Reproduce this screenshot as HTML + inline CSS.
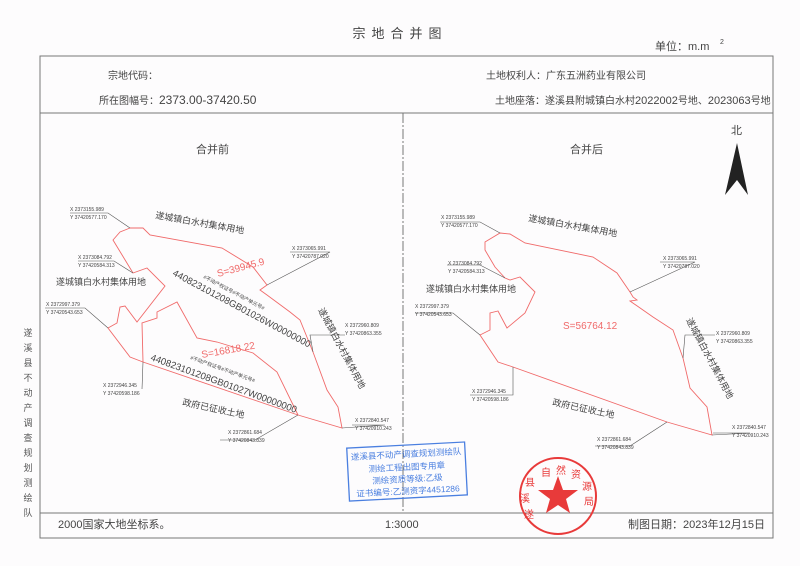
<!DOCTYPE html>
<html><head><meta charset="utf-8"><style>
html,body{margin:0;padding:0;background:#fdfcfd;}
svg{display:block;font-family:"Liberation Sans","Noto Sans CJK SC",sans-serif;}
</style></head><body>
<svg width="800" height="566" viewBox="0 0 800 566" xmlns="http://www.w3.org/2000/svg">
<rect width="800" height="566" fill="#fdfcfd"/>
<text x="400" y="38" font-size="13" text-anchor="middle" fill="#444" letter-spacing="6">宗地合并图</text>
<text x="655" y="50" font-size="11" fill="#444">单位：m.m</text>
<text x="720" y="44" font-size="7" fill="#444">2</text>
<g fill="none" stroke="#777" stroke-width="1">
<rect x="40" y="56" width="733" height="482"/>
<line x1="40" y1="113" x2="773" y2="113"/>
<line x1="40" y1="513" x2="773" y2="513"/>
<line x1="403" y1="113" x2="403" y2="513" stroke-dasharray="10,2,2,2"/>
</g>
<g font-size="10" fill="#444">
<text x="108" y="79">宗地代码：</text>
<text x="99" y="104">所在图幅号：<tspan font-size="12">2373.00-37420.50</tspan></text>
<text x="486" y="79">土地权利人：广东五洲药业有限公司</text>
<text x="495" y="104">土地座落：遂溪县附城镇白水村<tspan font-size="11">2022002</tspan>号地、<tspan font-size="11">2023063</tspan>号地</text>
<text x="196" y="153" font-size="11">合并前</text>
<text x="570" y="153" font-size="11">合并后</text>
<text x="731" y="134" font-size="11">北</text>
<text x="58" y="528" font-size="11">2000国家大地坐标系。</text>
<text x="385" y="528" font-size="11">1:3000</text>
<text x="628" y="528" font-size="11">制图日期：2023年12月15日</text>
</g>
<polygon points="737,143 748,195 737,180 725,195" fill="#222"/>
<g font-size="9" fill="#555" text-anchor="middle">
<text x="28" y="336">遂</text><text x="28" y="351">溪</text><text x="28" y="366">县</text><text x="28" y="381">不</text><text x="28" y="396">动</text><text x="28" y="411">产</text><text x="28" y="426">调</text><text x="28" y="441">查</text><text x="28" y="456">规</text><text x="28" y="471">划</text><text x="28" y="486">测</text><text x="28" y="501">绘</text><text x="28" y="516">队</text>
</g>
<g fill="none" stroke="#f06a6a" stroke-width="0.9">
<polyline points="130,228 143,228 150,235 222,248 253,267 267,285 260,290 267,295 290,312 300,320 313,352 327,390 338,407 342,428 298,415 143,362 130,357 108,328 117,323 120,307 125,306 137,322 165,286 147,268 133,273 113,240 120,232 130,228"/>
<polyline points="143,362 142,323 157,318 157,312 177,302 197,338 217,342 253,353 277,372 298,415"/>
</g>
<polygon fill="none" stroke="#f06a6a" stroke-width="0.9" points="500,233 510,234 525,243 593,257 617,273 630,292 633,297 637,300 630,301 653,317 673,330 683,358 690,388 707,407 712,435 667,422 513,367 498,362 480,335 490,330 490,313 498,311 507,328 525,313 535,292 520,277 510,280 505,278 495,267 485,250 485,242 500,233"/>
<g stroke="#555" stroke-width="0.6" fill="none">
<polyline points="70,213 108,213 130,228"/><polyline points="78,261 114,261 133,273"/><polyline points="45,308 85,308 108,328"/>
<polyline points="142,389 143,362"/><polyline points="290,252 330,252 267,285"/><polyline points="345,335 310,335 313,352"/>
<polyline points="220,440 255,440 298,415"/><polyline points="352,425 385,425 342,428"/>
<polyline points="440,222 480,222 500,233"/><polyline points="447,265 480,265 505,278"/><polyline points="415,313 453,313 480,335"/>
<polyline points="470,395 513,395 513,367"/><polyline points="660,262 695,262 630,292"/><polyline points="715,335 685,335 683,358"/>
<polyline points="595,446 630,446 667,422"/><polyline points="713,433 750,433 712,435"/>
</g>
<g font-size="5" fill="#444">
<text x="70" y="211">X 2373155.989</text><text x="70" y="219">Y 37420577.170</text>
<text x="78" y="259">X 2373084.792</text><text x="78" y="267">Y 37420584.313</text>
<text x="46" y="306">X 2372997.379</text><text x="46" y="314">Y 37420543.653</text>
<text x="103" y="387">X 2372946.345</text><text x="103" y="395">Y 37420598.186</text>
<text x="292" y="250">X 2373065.991</text><text x="292" y="258">Y 37420787.020</text>
<text x="345" y="327">X 2372960.809</text><text x="345" y="335">Y 37420863.355</text>
<text x="228" y="434">X 2372861.684</text><text x="228" y="442">Y 37420843.839</text>
<text x="355" y="422">X 2372840.547</text><text x="355" y="430">Y 37420910.243</text>
<text x="441" y="219">X 2373155.989</text><text x="441" y="227">Y 37420577.170</text>
<text x="448" y="265">X 2373084.792</text><text x="448" y="273">Y 37420584.313</text>
<text x="415" y="308">X 2372997.379</text><text x="415" y="316">Y 37420543.653</text>
<text x="472" y="393">X 2372946.345</text><text x="472" y="401">Y 37420598.186</text>
<text x="663" y="260">X 2373065.991</text><text x="663" y="268">Y 37420787.020</text>
<text x="716" y="335">X 2372960.809</text><text x="716" y="343">Y 37420863.355</text>
<text x="597" y="441">X 2372861.684</text><text x="597" y="449">Y 37420843.839</text>
<text x="732" y="429">X 2372840.547</text><text x="732" y="437">Y 37420910.243</text>
</g>
<g font-size="9" fill="#444">
<text x="155" y="218" transform="rotate(10 155 218)">遂城镇白水村集体用地</text>
<text x="56" y="285">遂城镇白水村集体用地</text>
<text x="318" y="310" transform="rotate(62 318 310)">遂城镇白水村集体用地</text>
<text x="182" y="405" transform="rotate(12 182 405)">政府已征收土地</text>
<text x="528" y="221" transform="rotate(10 528 221)">遂城镇白水村集体用地</text>
<text x="426" y="292">遂城镇白水村集体用地</text>
<text x="686" y="320" transform="rotate(62 686 320)">遂城镇白水村集体用地</text>
<text x="552" y="405" transform="rotate(12 552 405)">政府已征收土地</text>
</g>
<g fill="#f06a6a" font-size="10">
<text x="218" y="277" transform="rotate(-15 218 277)">S=39945.9</text>
<text x="202" y="358" transform="rotate(-10 202 358)">S=16818.22</text>
<text x="563" y="329">S=56764.12</text>
</g>
<g fill="#444">
<text x="203" y="278" font-size="5" transform="rotate(28 203 278)">#不动产权证号#不动产单元号#</text>
<text x="172" y="275" font-size="9.5" transform="rotate(28 172 275)">440823101208GB01026W00000000</text>
<text x="190" y="359" font-size="5" transform="rotate(20 190 359)">#不动产权证号#不动产单元号#</text>
<text x="150" y="360" font-size="9.5" transform="rotate(20 150 360)">440823101208GB01027W00000000</text>
</g>
<g transform="rotate(-3 408 471)">
<rect x="348" y="445" width="118" height="53" fill="none" stroke="#4a7fe0" stroke-width="1.3"/>
<g fill="#4a7fe0" font-size="8.5" text-anchor="middle">
<text x="407" y="457">遂溪县不动产调查规划测绘队</text>
<text x="407" y="470">测绘工程出图专用章</text>
<text x="407" y="482">测绘资质等级:乙级</text>
<text x="407" y="494">证书编号:乙测资字4451286</text>
</g></g>
<circle cx="558" cy="496" r="38" fill="none" stroke="#e83a3a" stroke-width="2"/>
<polygon points="558,476 563,490 578,490 566,499 570,513 558,505 546,513 550,499 538,490 553,490" fill="#e83a3a"/>
<g fill="#e83a3a" font-size="10" text-anchor="middle">
<text x="546" y="476">自</text><text x="561" y="474">然</text><text x="576" y="478">资</text><text x="587" y="490">源</text><text x="589" y="505">局</text>
<text x="530" y="486">县</text><text x="525" y="502">溪</text><text x="529" y="518">遂</text>
</g>
</svg>
</body></html>
